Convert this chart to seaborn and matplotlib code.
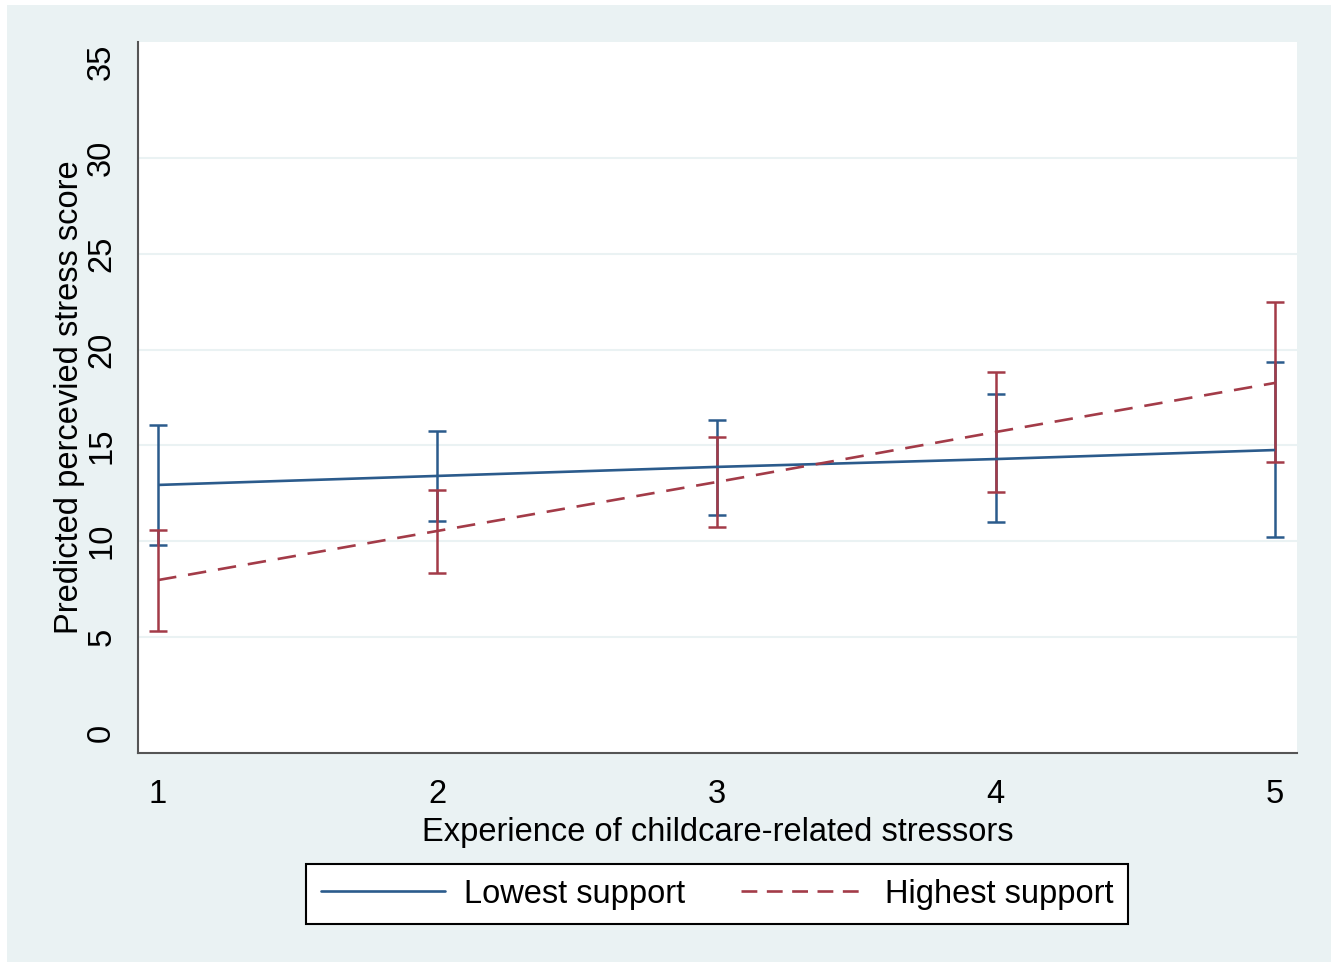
import numpy as np
import pandas as pd
import matplotlib
matplotlib.use("Agg")
import matplotlib.pyplot as plt
import seaborn as sns
from matplotlib.patches import Rectangle

stressors = [1, 2, 3, 4, 5]
groups = ["Lowest support", "Highest support"]

low_pred = [12.94, 13.41, 13.88, 14.29, 14.76]
low_upper = [16.07, 15.75, 16.33, 17.68, 19.35]
low_lower = [9.81, 11.06, 11.37, 11.01, 10.22]

high_pred = [7.98, 10.54, 13.09, 15.70, 18.26]
high_upper = [10.59, 12.68, 15.44, 18.83, 22.48]
high_lower = [5.32, 8.35, 10.75, 12.57, 14.14]

yticks = [0, 5, 10, 15, 20, 25, 30, 35]

blue = "#2B5B8C"
red = "#A33B48"
bg = "#EAF2F3"

df = pd.DataFrame({
    "x": stressors * 2,
    "y": low_pred + high_pred,
    "group": [groups[0]] * 5 + [groups[1]] * 5,
})

sns.set_style("white")
plt.rcParams["font.family"] = ["Liberation Sans", "DejaVu Sans"]
plt.rcParams["text.color"] = "black"
plt.rcParams["axes.labelcolor"] = "black"
plt.rcParams["xtick.color"] = "black"
plt.rcParams["ytick.color"] = "black"

fs = 23.5

fig = plt.figure(figsize=(13.41, 9.67), dpi=100)
fig.patch.set_facecolor("white")
fig.patches.append(Rectangle((7 / 1341, 5 / 967), 1324 / 1341, 957 / 967,
                             transform=fig.transFigure, facecolor=bg,
                             edgecolor="none", zorder=-10))

ax = fig.add_axes([138 / 1341, 1 - 753 / 967, 1159 / 1341, 711 / 967])
ax.set_facecolor("white")

# confidence intervals
for pred, lo, hi, col in [(low_pred, low_lower, low_upper, blue),
                          (high_pred, high_lower, high_upper, red)]:
    pred = np.array(pred)
    err = [pred - np.array(lo), np.array(hi) - pred]
    ax.errorbar(stressors, pred, yerr=err, fmt="none", ecolor=col,
                elinewidth=1.8, capsize=6.5, capthick=1.8, zorder=3)

sns.lineplot(data=df, x="x", y="y", hue="group", style="group",
             palette=[blue, red], dashes=[(1, 0), (7, 4.5)],
             linewidth=1.9, ax=ax, legend=False, zorder=4)

ax.set_xlim(0.928, 5.079)
ax.set_ylim(-1.04, 36.04)
ax.set_xticks(stressors)
ax.set_yticks(yticks)
ax.set_xticklabels([str(s) for s in stressors], fontsize=fs)
ax.set_yticklabels([str(t) for t in yticks], fontsize=fs, rotation=90,
                   va="center")
ax.tick_params(axis="both", direction="out", length=9, width=1.5,
               color="#555555")
ax.tick_params(axis="x", pad=10)
ax.tick_params(axis="y", pad=6)

ax.yaxis.grid(True, color=bg, linewidth=1.5)
gl = ax.get_ygridlines()
gl[0].set_visible(False)
gl[-1].set_visible(False)
ax.set_axisbelow(True)

for s in ["top", "right"]:
    ax.spines[s].set_visible(False)
for s in ["left", "bottom"]:
    ax.spines[s].set_color("#555555")
    ax.spines[s].set_linewidth(1.5)

ax.set_xlabel("Experience of childcare-related stressors", fontsize=fs,
              labelpad=5)
ax.set_ylabel("Predicted percevied stress score", fontsize=fs, labelpad=1)

handles = [plt.Line2D([], [], color=blue, linewidth=1.9),
           plt.Line2D([], [], color=red, linewidth=1.9, dashes=(6, 3.6))]
leg = fig.legend(handles, groups, loc="center", ncol=2,
                 bbox_to_anchor=(717 / 1341, 1 - 894 / 967), fontsize=fs,
                 frameon=True, fancybox=False, edgecolor="black",
                 framealpha=1, handlelength=3.8, handletextpad=0.6,
                 columnspacing=1.7, borderpad=0.45, borderaxespad=0)
leg.get_frame().set_linewidth(1.5)

fig.savefig("out.png", dpi=100, facecolor=fig.get_facecolor())
